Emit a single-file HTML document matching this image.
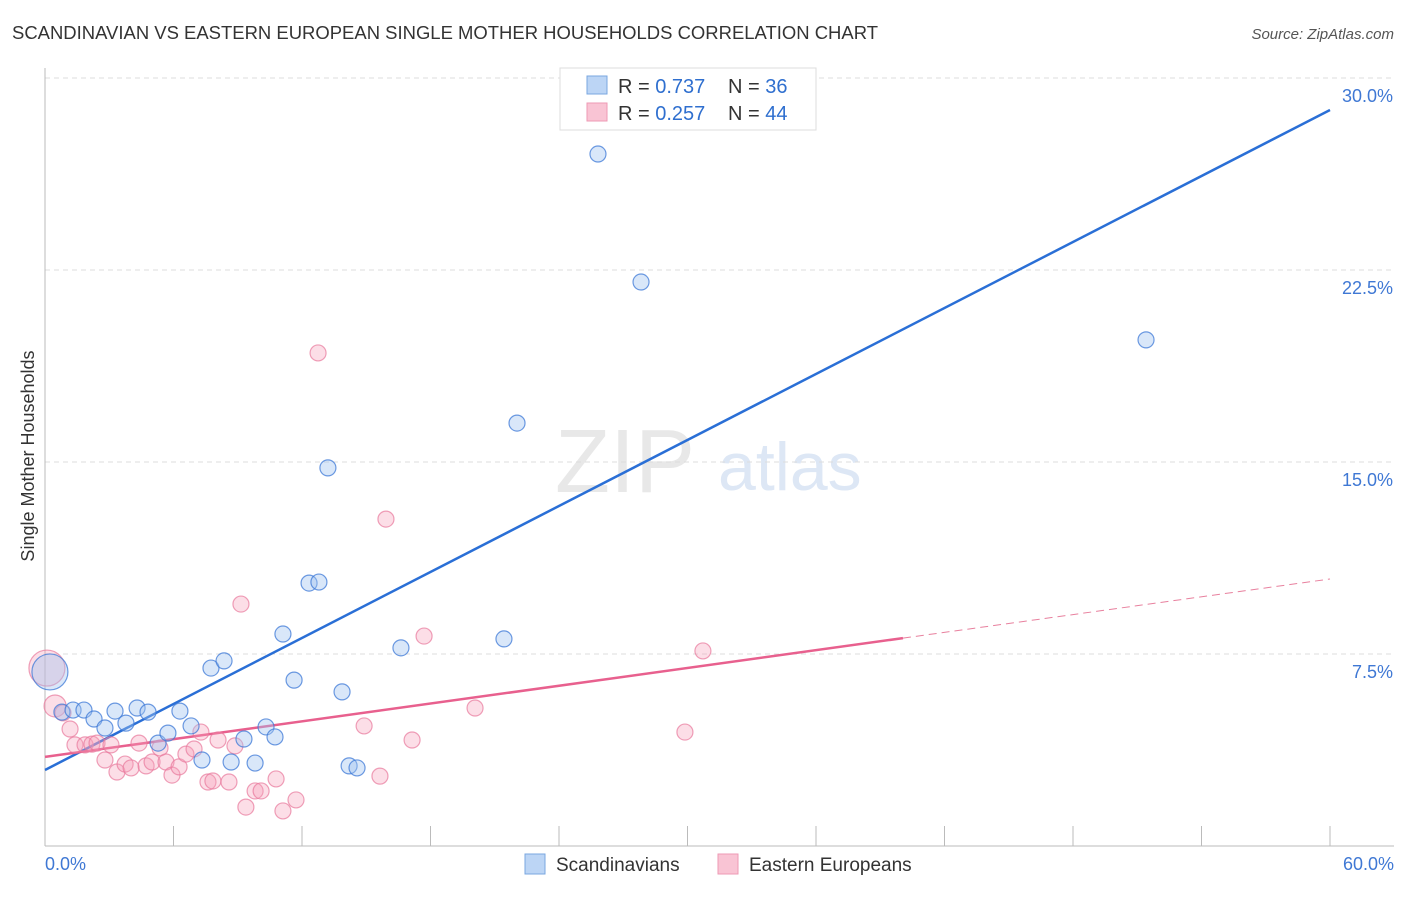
<!DOCTYPE html>
<html><head><meta charset="utf-8"><style>
body{margin:0;background:#fff;font-family:"Liberation Sans",sans-serif}
svg text{font-family:"Liberation Sans",sans-serif}
</style></head><body>
<svg id="chart" width="1406" height="892">
<text x="12" y="39" font-size="18" fill="#333" textLength="866" lengthAdjust="spacingAndGlyphs">SCANDINAVIAN VS EASTERN EUROPEAN SINGLE MOTHER HOUSEHOLDS CORRELATION CHART</text>
<text x="1394" y="39" font-size="15" fill="#555" text-anchor="end" font-style="italic">Source: ZipAtlas.com</text>
<text transform="translate(34,456) rotate(-90)" font-size="18" fill="#333" text-anchor="middle">Single Mother Households</text>
<text x="555" y="492" font-size="90" fill="#e8e8e8" font-family="Liberation Serif">ZIP</text>
<text x="718" y="490" font-size="68" fill="#dde7f5">atlas</text>
<g id="grid"></g><g id="axes"></g><g id="lines"></g><g id="pts"></g>
<g>
<rect x="560" y="68" width="256" height="62" fill="#fff" stroke="#ddd"/>
<rect x="587" y="76" width="20" height="18" fill="#bcd5f5" stroke="#7aa7e0"/>
<rect x="587" y="103" width="20" height="18" fill="#f9c4d4" stroke="#ee9ab4"/>
<text x="618" y="93" font-size="20" fill="#333">R = <tspan fill="#2f6fcf">0.737</tspan></text>
<text x="728" y="93" font-size="20" fill="#333">N = <tspan fill="#2f6fcf">36</tspan></text>
<text x="618" y="120" font-size="20" fill="#333">R = <tspan fill="#2f6fcf">0.257</tspan></text>
<text x="728" y="120" font-size="20" fill="#333">N = <tspan fill="#2f6fcf">44</tspan></text>
</g>
<g>
<rect x="525" y="854" width="20" height="20" fill="#bcd5f5" stroke="#7aa7e0"/>
<text x="556" y="871" font-size="19" fill="#333">Scandinavians</text>
<rect x="718" y="854" width="20" height="20" fill="#f9c4d4" stroke="#ee9ab4"/>
<text x="749" y="871" font-size="19" fill="#333">Eastern Europeans</text>
</g>
</svg>
<script>
const yTicks=[7.5,15,22.5,30];
const yTickLabels=["7.5%","15.0%","22.5%","30.0%"];
const xTickLabels=["0.0%","60.0%"];
const blueX=[0.23,0.79,1.31,1.82,2.29,3.27,2.8,3.78,4.3,4.81,5.28,5.74,6.3,6.82,7.33,7.75,8.36,8.69,9.29,9.81,10.32,10.74,11.11,11.63,12.33,12.79,13.21,13.87,14.2,14.57,16.62,21.43,22.04,25.82,27.83,51.41];
const blueY=[6.8,5.23,5.31,5.31,4.96,5.27,4.61,4.8,5.39,5.23,4.02,4.41,5.27,4.69,3.36,6.95,7.23,3.28,4.18,3.24,4.65,4.26,8.28,6.48,10.27,10.31,14.77,6.02,3.13,3.05,7.74,8.09,16.52,27.03,22.03,19.77];
const pinkX=[0.09,0.47,0.84,1.17,1.4,1.87,2.19,2.43,2.8,3.08,3.36,3.74,4.02,4.39,4.72,5,5.37,5.65,5.93,6.26,6.58,6.96,7.28,7.61,7.84,8.08,8.59,8.87,9.15,9.38,9.81,10.09,10.79,11.11,11.72,12.75,14.9,15.64,15.92,17.14,17.7,20.08,29.88,30.72];
const pinkY=[6.95,5.47,5.2,4.57,3.95,3.95,3.98,4.02,3.36,3.95,2.89,3.2,3.05,4.02,3.13,3.28,3.83,3.28,2.77,3.09,3.59,3.79,4.45,2.5,2.54,4.14,2.5,3.91,9.45,1.52,2.15,2.15,2.62,1.37,1.8,19.26,4.69,2.73,12.77,4.14,8.2,5.39,4.45,7.62];
const blueLine=[2.97,28.75];
const pinkLine=[3.48,10.43]; const pinkSolidEnd=40.06;
const bigBlue=[0], bigPink=[0,1];
const X=v=>45+v/60*1285, Y=v=>846-v/30*768;
const NS="http://www.w3.org/2000/svg";
function mk(t,a,p){const e=document.createElementNS(NS,t);for(const k in a)e.setAttribute(k,a[k]);p.appendChild(e);return e;}
const grid=document.getElementById('grid'),axes=document.getElementById('axes');
yTicks.forEach((t,i)=>{
 const g=mk('line',{x1:45,x2:1394,y1:Y(t),y2:Y(t),stroke:'#ddd','stroke-dasharray':'5,4'},grid);
 
 
 const l=mk('text',{x:1393,y:Y(t)+24,'font-size':18,fill:'#3f78d4','text-anchor':'end'},axes);l.textContent=yTickLabels[i];
 
 
});
const ax=mk('line',{x1:45,x2:45,y1:68,y2:846,stroke:'#bbb'},axes);


const bx=mk('line',{x1:45,x2:1394,y1:846,y2:846,stroke:'#bbb'},axes);


for(let i=1;i<=10;i++){const t=mk('line',{x1:X(i*6),x2:X(i*6),y1:826,y2:846,stroke:'#bbb'},axes);
 
 }
[[0,'start',45],[60,'end',1394]].forEach((d,i)=>{const l=mk('text',{x:d[2],y:870,'font-size':18,fill:'#3f78d4','text-anchor':d[1]},axes);l.textContent=xTickLabels[i];
 
 });
const pts=document.getElementById('pts');
pinkX.forEach((x,i)=>{const c=mk('circle',{cx:X(x),cy:Y(pinkY[i]),r:bigPink.includes(i)?(i==0?18:11):8,fill:'rgba(245,160,185,0.35)',stroke:'rgba(232,120,155,0.7)','stroke-width':1.2},pts);
 
 });
blueX.forEach((x,i)=>{const c=mk('circle',{cx:X(x),cy:Y(blueY[i]),r:bigBlue.includes(i)?18:8,fill:'rgba(160,195,240,0.4)',stroke:'rgba(60,120,215,0.75)','stroke-width':1.2},pts);
 
 });
const lines=document.getElementById('lines');
const bl=mk('line',{x1:X(0),y1:Y(blueLine[0]),x2:X(60),y2:Y(blueLine[1]),stroke:'#2a6fd6','stroke-width':2.5},lines);


const py=x=>pinkLine[0]+(pinkLine[1]-pinkLine[0])*x/60;
const pl=mk('line',{x1:X(0),y1:Y(py(0)),x2:X(pinkSolidEnd),y2:Y(py(pinkSolidEnd)),stroke:'#e8608e','stroke-width':2.5},lines);


const pd=mk('line',{x1:X(pinkSolidEnd),y1:Y(py(pinkSolidEnd)),x2:X(60),y2:Y(py(60)),stroke:'#e8809e','stroke-width':1,'stroke-dasharray':'8,5'},lines);


</script>
</body></html>
